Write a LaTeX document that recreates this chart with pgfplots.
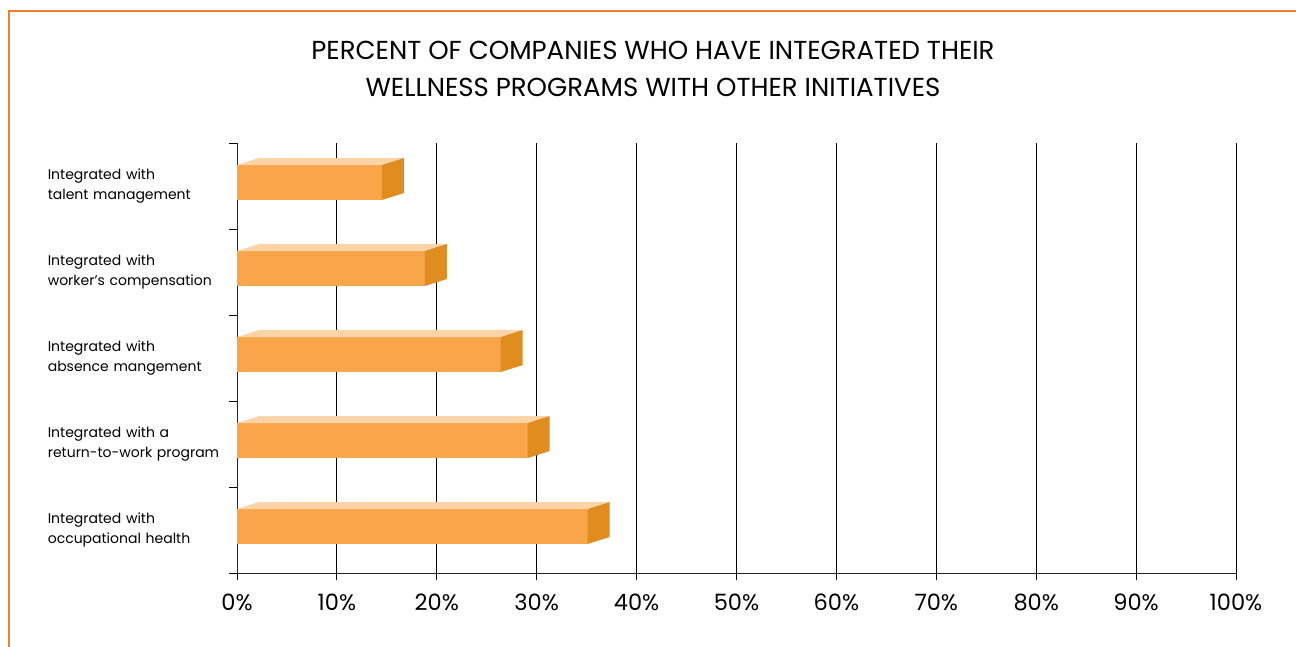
\documentclass[border=0pt]{standalone}
\usepackage{pgfplots}
\pgfplotsset{compat=1.18}
\usepackage{fontspec}
\setmainfont{Poppins}
\definecolor{frontc}{RGB}{249,165,74}
\definecolor{topc}{RGB}{253,212,168}
\definecolor{sidec}{RGB}{224,140,30}
\definecolor{framec}{RGB}{240,128,48}
\begin{document}
\begin{tikzpicture}
\useasboundingbox (-237pt,-74pt) rectangle (1059pt,573pt);
\draw[framec, line width=1.8pt] (1059pt,562pt) -- (-228pt,562pt) -- (-228pt,-74pt);
\begin{axis}[
  at={(0pt,0pt)}, anchor=origin,
  scale only axis, width=999pt, height=430pt,
  xmin=0, xmax=100, ymin=0, ymax=5,
  axis x line=bottom, axis y line=left,
  axis line style={-, black!85, line width=0.9pt},
  xtick={0,10,...,100},
  xticklabel={\pgfmathprintnumber{\tick}\%},
  /pgf/number format/assume math mode=true,
  xticklabel style={font=\fontsize{22.5}{26}\selectfont, yshift=-10pt},
  xmajorgrids, major grid style={black, line width=0.9pt},
  major x tick style={black, line width=0.8pt},
  tick align=outside, major tick length=7pt,
  ytick={0.5,1.5,2.5,3.5,4.5},
  yticklabels={{Integrated with\\occupational health},{Integrated with a\\return-to-work program},{Integrated with\\absence mangement},{Integrated with\\worker’s compensation},{Integrated with\\talent management}},
  major y tick style={draw=none},
  yticklabel style={font=\fontsize{14}{20}\selectfont, text width=180pt, align=left, anchor=east, inner sep=0pt, xshift=-2pt},
  minor ytick={0,1,2,3,4,5},
  minor tick length=8pt,
  minor y tick style={black, line width=0.9pt},
  no markers,
  clip=false,
]
% occupational health 35.1
\addplot[fill=frontc, draw=none, forget plot] coordinates {(0,0.337) (35.1,0.337) (35.1,0.744) (0,0.744)} -- cycle;
\addplot[fill=topc, draw=none, forget plot] coordinates {(0,0.744) (35.1,0.744) (37.3,0.825) (2.2,0.825)} -- cycle;
\addplot[fill=sidec, draw=none, forget plot] coordinates {(35.1,0.337) (37.3,0.418) (37.3,0.825) (35.1,0.744)} -- cycle;
% return-to-work 29.1
\addplot[fill=frontc, draw=none, forget plot] coordinates {(0,1.337) (29.1,1.337) (29.1,1.744) (0,1.744)} -- cycle;
\addplot[fill=topc, draw=none, forget plot] coordinates {(0,1.744) (29.1,1.744) (31.3,1.825) (2.2,1.825)} -- cycle;
\addplot[fill=sidec, draw=none, forget plot] coordinates {(29.1,1.337) (31.3,1.418) (31.3,1.825) (29.1,1.744)} -- cycle;
% absence 26.4
\addplot[fill=frontc, draw=none, forget plot] coordinates {(0,2.337) (26.4,2.337) (26.4,2.744) (0,2.744)} -- cycle;
\addplot[fill=topc, draw=none, forget plot] coordinates {(0,2.744) (26.4,2.744) (28.6,2.825) (2.2,2.825)} -- cycle;
\addplot[fill=sidec, draw=none, forget plot] coordinates {(26.4,2.337) (28.6,2.418) (28.6,2.825) (26.4,2.744)} -- cycle;
% worker's compensation 18.8
\addplot[fill=frontc, draw=none, forget plot] coordinates {(0,3.337) (18.8,3.337) (18.8,3.744) (0,3.744)} -- cycle;
\addplot[fill=topc, draw=none, forget plot] coordinates {(0,3.744) (18.8,3.744) (21.0,3.825) (2.2,3.825)} -- cycle;
\addplot[fill=sidec, draw=none, forget plot] coordinates {(18.8,3.337) (21.0,3.418) (21.0,3.825) (18.8,3.744)} -- cycle;
% talent management 14.5
\addplot[fill=frontc, draw=none, forget plot] coordinates {(0,4.337) (14.5,4.337) (14.5,4.744) (0,4.744)} -- cycle;
\addplot[fill=topc, draw=none, forget plot] coordinates {(0,4.744) (14.5,4.744) (16.7,4.825) (2.2,4.825)} -- cycle;
\addplot[fill=sidec, draw=none, forget plot] coordinates {(14.5,4.337) (16.7,4.418) (16.7,4.825) (14.5,4.744)} -- cycle;
\end{axis}
\node[align=center, font=\fontsize{26}{37}\selectfont, inner sep=0pt] at (416pt,504pt) {PERCENT OF COMPANIES WHO HAVE INTEGRATED THEIR\\WELLNESS PROGRAMS WITH OTHER INITIATIVES};
\end{tikzpicture}
\end{document}
